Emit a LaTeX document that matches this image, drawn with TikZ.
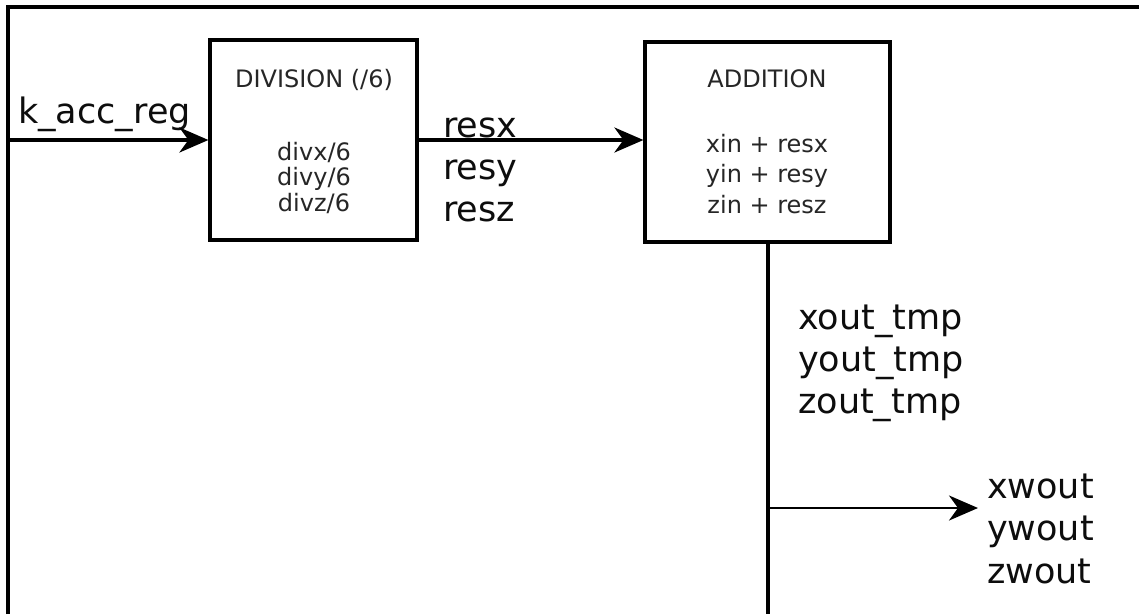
\documentclass[tikz,border=0pt]{standalone}
\usepackage{fontspec}
\setmainfont{DejaVu Sans}
\usetikzlibrary{arrows.meta}
\begin{document}
\begin{tikzpicture}[x=1pt,y=-1pt,
  blk/.style={draw, line width=3.2pt, rectangle, inner sep=0pt},
  big/.style={font=\fontsize{35}{42}\selectfont, text=black!95, inner sep=0pt},
  small/.style={font=\fontsize{24}{28}\selectfont, text=black!85, inner sep=0pt},
  wire/.style={line width=3.2pt},
  arr/.style={wire, -{Stealth[length=29pt,width=25pt,inset=9pt]}}
]
\useasboundingbox (0,0) rectangle (1139,614);
\fill[white] (0,0) rectangle (1139,614);
% frame
\draw[line width=3.2pt] (8,614) -- (8,7) -- (1139,7);
% blocks
\node[blk, minimum width=207pt, minimum height=200pt] (div) at (313.5,140) {};
\node[blk, minimum width=245pt, minimum height=200pt] (add) at (767.5,142) {};
% block texts
\node[small, anchor=base] (divt) at (314,87) {DIVISION (/6)};
\node[small, anchor=base] (divx) at (314,160) {divx/6};
\node[small, anchor=base] (divy) at (314,185) {divy/6};
\node[small, anchor=base] (divz) at (314,211) {divz/6};
\node[small, anchor=base] (addt) at (767,87) {ADDITION};
\node[small, anchor=base] (addx) at (767,152) {xin + resx};
\node[small, anchor=base] (addy) at (767,182) {yin + resy};
\node[small, anchor=base] (addz) at (767,213) {zin + resz};
% labels
\node[big, anchor=base west] (kacc) at (18,123) {k\_acc\_reg};
\node[big, anchor=base west] (resx) at (443,137) {resx};
\node[big, anchor=base west] (resy) at (443,179) {resy};
\node[big, anchor=base west] (resz) at (443,221) {resz};
\node[big, anchor=base west] (xtmp) at (798,329) {xout\_tmp};
\node[big, anchor=base west] (ytmp) at (798,371) {yout\_tmp};
\node[big, anchor=base west] (ztmp) at (798,413) {zout\_tmp};
\node[big, anchor=base west] (xw) at (987,498) {xwout};
\node[big, anchor=base west] (yw) at (987,540) {ywout};
\node[big, anchor=base west] (zw) at (987,583) {zwout};
% connectors
\coordinate (in) at (8,140);
\coordinate (bot) at (768,614);
\coordinate (tap) at (768,508);
\coordinate (outend) at (978,508);
\draw[arr] (in) -- (div.west |- in);
\draw[arr] (div.east |- in) -- (add.west |- in);
\draw[wire] (add.south -| bot) -- (bot);
\draw[arr, line width=2.8pt] (tap) -- (outend);
\end{tikzpicture}
\end{document}
